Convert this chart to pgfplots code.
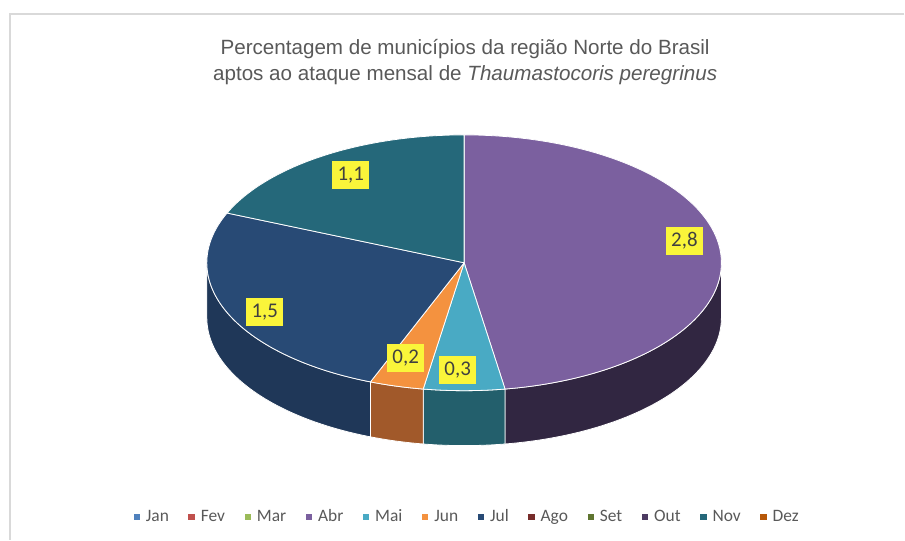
\documentclass[border=0pt]{standalone}
\usepackage{pgfplots}
\pgfplotsset{compat=1.18}
\usepackage{fontspec}
\setmainfont{Liberation Sans}
\newfontfamily\carlito{Carlito}

% legend / Excel palette
\definecolor{cJan}{HTML}{4F81BD}
\definecolor{cFev}{HTML}{C0504D}
\definecolor{cMar}{HTML}{9BBB59}
\definecolor{cAbr}{HTML}{7B609F}
\definecolor{cMai}{HTML}{49AAC4}
\definecolor{cJun}{HTML}{F4923F}
\definecolor{cJul}{HTML}{284A75}
\definecolor{cAgo}{HTML}{772C2A}
\definecolor{cSet}{HTML}{5F7530}
\definecolor{cOut}{HTML}{4D3B62}
\definecolor{cNov}{HTML}{25687A}
\definecolor{cDez}{HTML}{B65708}
% side walls (darker)
\definecolor{sAbr}{HTML}{312641}
\definecolor{sMai}{HTML}{235F6C}
\definecolor{sJun}{HTML}{A1592A}
\definecolor{sJul}{HTML}{1F3758}
% other
\definecolor{titleGray}{HTML}{595959}
\definecolor{lblText}{HTML}{404040}
\definecolor{lblFill}{HTML}{FAF53A}
\definecolor{borderGray}{HTML}{D9D9D9}

% data (percent of municipalities per month)
\def\vJan{0}\def\vFev{0}\def\vMar{0}\def\vAbr{2.8}\def\vMai{0.3}\def\vJun{0.2}
\def\vJul{1.5}\def\vAgo{0}\def\vSet{0}\def\vOut{0}\def\vNov{1.1}\def\vDez{0}

% geometry (pixels)
\def\cx{464.5}\def\cy{263}\def\rx{257.5}\def\ry{128}\def\dep{55}

\pgfmathsetmacro\tot{\vJan+\vFev+\vMar+\vAbr+\vMai+\vJun+\vJul+\vAgo+\vSet+\vOut+\vNov+\vDez}
\pgfmathsetmacro\aA{90-360*(\vJan+\vFev+\vMar)/\tot}
\pgfmathsetmacro\aB{\aA-360*\vAbr/\tot}
\pgfmathsetmacro\aC{\aB-360*\vMai/\tot}
\pgfmathsetmacro\aD{\aC-360*\vJun/\tot}
\pgfmathsetmacro\aE{\aD-360*(\vJul+\vAgo+\vSet+\vOut)/\tot}
\pgfmathsetmacro\aF{\aE-360*\vNov/\tot}

\newcommand\angexpr[2]{ifthenelse(\t<1,(#1)+((#2)-(#1))*\t,ifthenelse(\t<2,(#2),(#2)+((#1)-(#2))*(\t-2)))}
\newcommand\depexpr{ifthenelse(\t<1,0,ifthenelse(\t<2,\dep*(\t-1),\dep))}

\newcommand\sidewall[3]{%
  \addplot[forget plot, fill=#3, draw=white, line width=0.8bp, line join=round,
           domain=0:3, samples=301, variable=\t]
    ({\cx+\rx*cos(\angexpr{#1}{#2})},{\cy-\ry*sin(\angexpr{#1}{#2})+\depexpr}) -- cycle;}
\newcommand\topsector[3]{%
  \addplot[forget plot, fill=#3, draw=white, line width=0.8bp, line join=round,
           domain=0:1, samples=120, variable=\t]
    ({\cx+\rx*cos((#1)+((#2)-(#1))*\t)},{\cy-\ry*sin((#1)+((#2)-(#1))*\t)}) -- (axis cs:\cx,\cy) -- cycle;}

\begin{document}
\begin{tikzpicture}
\begin{axis}[
  scale only axis, width=905bp, height=540bp,
  xmin=0, xmax=905, ymin=0, ymax=540, y dir=reverse,
  hide axis, clip=false,
  legend columns=12,
  legend image code/.code={\fill[#1] (0bp,-2.7bp) rectangle (5.4bp,2.7bp);},
  legend style={at={(0.5155,0.0426)}, anchor=center, draw=none, fill=none,
    font=\carlito\fontsize{17.5}{20}\selectfont, text=titleGray,
    inner sep=0pt, outer sep=0pt,
    nodes={inner sep=0bp},
    /tikz/every odd column/.append style={column sep=6.5bp},
    /tikz/every even column/.append style={column sep=19.6bp}},
]
% frame of the chart area
\addplot[forget plot, draw=none] coordinates {(0,0) (905,540)};
\addplot[forget plot, color=borderGray, line width=1.5bp] coordinates {(905,14) (10,14) (10,540)};

% side walls (front half only)
\sidewall{0}{\aB}{sAbr}
\sidewall{\aB}{\aC}{sMai}
\sidewall{\aC}{\aD}{sJun}
\sidewall{\aD}{-180}{sJul}

% top faces
\topsector{\aA}{\aB}{cAbr}
\topsector{\aB}{\aC}{cMai}
\topsector{\aC}{\aD}{cJun}
\topsector{\aD}{\aE}{cJul}
\topsector{\aE}{\aF}{cNov}

% data labels
\tikzset{lbl/.style={fill=lblFill, text=lblText, font=\carlito\fontsize{21}{24}\selectfont,
  minimum width=37bp, minimum height=28bp, inner sep=0pt}}
\node[lbl] at (axis cs:685,241) {2,8};
\node[lbl] at (axis cs:458,370) {0,3};
\node[lbl] at (axis cs:406,358) {0,2};
\node[lbl] at (axis cs:265,312) {1,5};
\node[lbl] at (axis cs:351,175) {1,1};

% title
\node[anchor=base, font=\fontsize{20.7}{25}\selectfont, text=titleGray] at (axis cs:465.5,54.5)
  {Percentagem de municípios da região Norte do Brasil};
\node[anchor=base, font=\fontsize{20.7}{25}\selectfont, text=titleGray] at (axis cs:465.5,81)
  {aptos ao ataque mensal de \textit{Thaumastocoris peregrinus}};

% legend
\addlegendimage{cJan}\addlegendimage{cFev}\addlegendimage{cMar}\addlegendimage{cAbr}
\addlegendimage{cMai}\addlegendimage{cJun}\addlegendimage{cJul}\addlegendimage{cAgo}
\addlegendimage{cSet}\addlegendimage{cOut}\addlegendimage{cNov}\addlegendimage{cDez}
\legend{Jan,Fev,Mar,Abr,Mai,Jun,Jul,Ago,Set,Out,Nov,Dez}
\end{axis}
\end{tikzpicture}
\end{document}
